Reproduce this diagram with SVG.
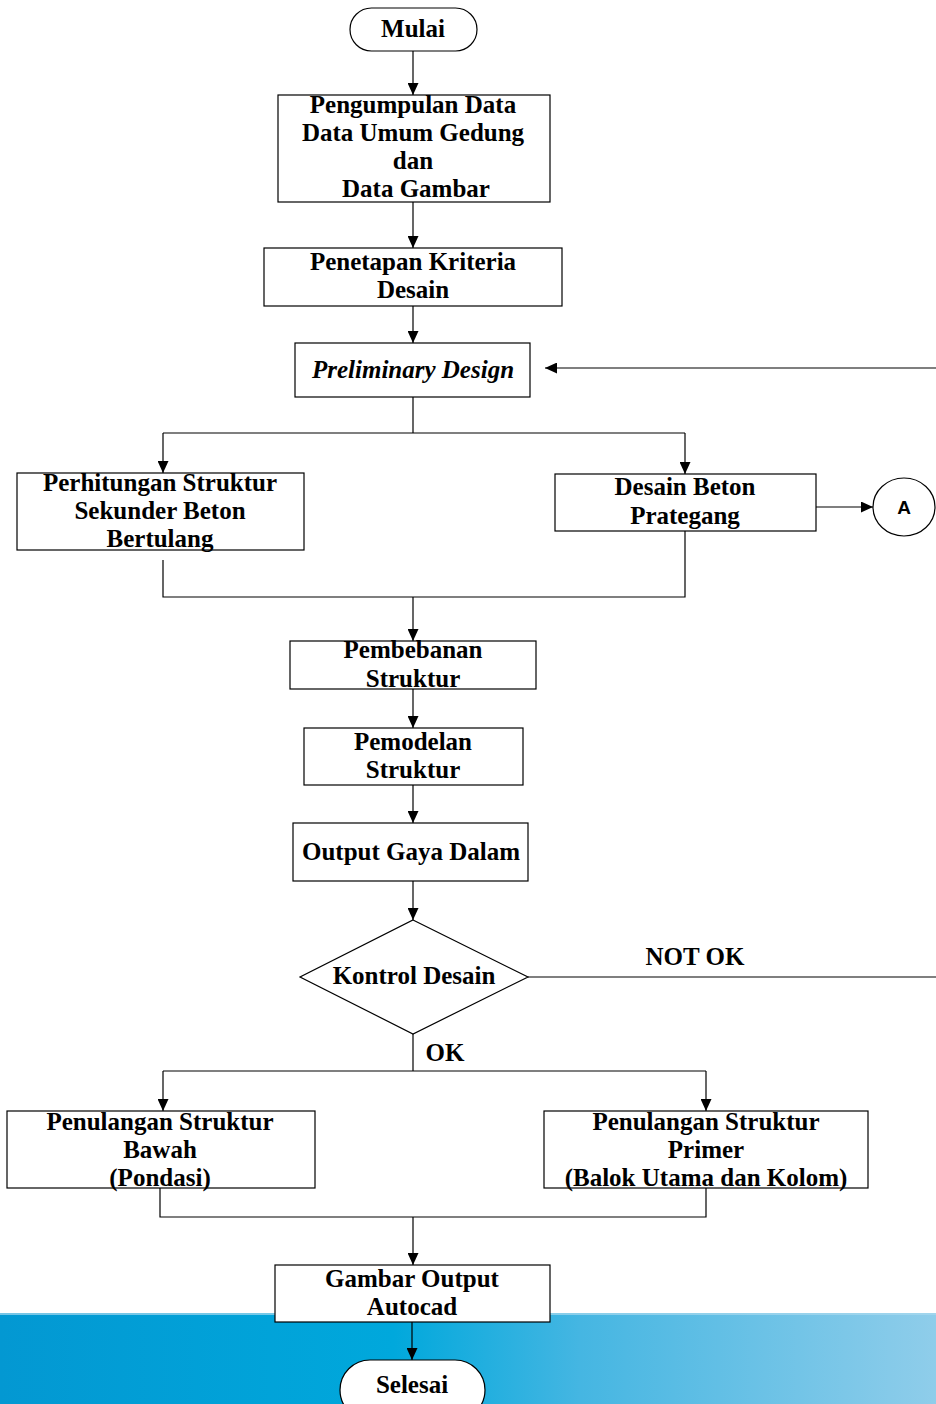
<svg xmlns="http://www.w3.org/2000/svg" width="936" height="1404" viewBox="0 0 936 1404">
<defs>
<linearGradient id="band" x1="0" y1="0" x2="1" y2="0">
<stop offset="0" stop-color="#0398d2"/>
<stop offset="0.42" stop-color="#00a8dc"/>
<stop offset="0.62" stop-color="#45b6e2"/>
<stop offset="1" stop-color="#8fcdea"/>
</linearGradient>
<marker id="arr" markerWidth="12" markerHeight="11" refX="12" refY="5.5" orient="auto" markerUnits="userSpaceOnUse">
<path d="M0,0 L12,5.5 L0,11 Z" fill="#000"/>
</marker>
<style>
.box{fill:#fff;stroke:#000;stroke-width:1.2}
.ln{fill:none;stroke:#000;stroke-width:1.2}
.t{font-family:"Liberation Serif","Times New Roman",serif;font-weight:bold;font-size:25px;fill:#000;text-anchor:middle}
.ti{font-style:italic}
.s{font-family:"Liberation Sans",Arial,sans-serif;font-weight:bold;font-size:19px;fill:#000;text-anchor:middle}
</style>
</defs>
<rect x="0" y="0" width="936" height="1404" fill="#fff"/>
<rect x="0" y="1313" width="936" height="91" fill="url(#band)"/>
<rect x="0" y="1313" width="936" height="2" fill="#a8d8ee" opacity="0.7"/>

<g id="connectors">
<path class="ln" d="M413,51 V95" marker-end="url(#arr)"/>
<path class="ln" d="M413,202 V248" marker-end="url(#arr)"/>
<path class="ln" d="M413,306 V343" marker-end="url(#arr)"/>
<path class="ln" d="M936,368 H545" marker-end="url(#arr)"/>
<path class="ln" d="M413,397 V433"/>
<path class="ln" d="M163,433 H685"/>
<path class="ln" d="M163,433 V473" marker-end="url(#arr)"/>
<path class="ln" d="M685,433 V474" marker-end="url(#arr)"/>
<path class="ln" d="M816,507 H873" marker-end="url(#arr)"/>
<path class="ln" d="M163,560 V597 H685 V531"/>
<path class="ln" d="M413,597 V641" marker-end="url(#arr)"/>
<path class="ln" d="M413,689 V728" marker-end="url(#arr)"/>
<path class="ln" d="M413,785 V823" marker-end="url(#arr)"/>
<path class="ln" d="M413,881 V920" marker-end="url(#arr)"/>
<path class="ln" d="M528,977 H936"/>
<path class="ln" d="M413,1034 V1071"/>
<path class="ln" d="M163,1071 H706"/>
<path class="ln" d="M163,1071 V1111" marker-end="url(#arr)"/>
<path class="ln" d="M706,1071 V1111" marker-end="url(#arr)"/>
<path class="ln" d="M160,1188 V1217 H706 V1188"/>
<path class="ln" d="M413,1217 V1265" marker-end="url(#arr)"/>
<path class="ln" d="M412,1322 V1360" marker-end="url(#arr)"/>
<text class="t" x="695" y="965">NOT OK</text>
<text class="t" x="445" y="1061">OK</text>
</g>

<g id="mulai">
<rect class="box" x="350" y="8" width="127" height="43" rx="21.5" ry="21.5"/>
<text class="t" x="413" y="37">Mulai</text>
</g>
<g id="pengumpulan">
<rect class="box" x="278" y="95" width="272" height="107"/>
<text class="t" x="413" y="113">Pengumpulan Data</text>
<text class="t" x="413" y="141">Data Umum Gedung</text>
<text class="t" x="413" y="169">dan</text>
<text class="t" x="416" y="197">Data Gambar</text>
</g>
<g id="kriteria">
<rect class="box" x="264" y="248" width="298" height="58"/>
<text class="t" x="413" y="270">Penetapan Kriteria</text>
<text class="t" x="413" y="298">Desain</text>
</g>
<g id="preliminary">
<rect class="box" x="295" y="343" width="235" height="54"/>
<text class="t ti" x="413" y="378">Preliminary Design</text>
</g>
<g id="sekunder">
<rect class="box" x="17" y="473" width="287" height="77"/>
<text class="t" x="160" y="491">Perhitungan Struktur</text>
<text class="t" x="160" y="519">Sekunder Beton</text>
<text class="t" x="160" y="547">Bertulang</text>
</g>
<g id="prategang">
<rect class="box" x="555" y="474" width="261" height="57"/>
<text class="t" x="685" y="495">Desain Beton</text>
<text class="t" x="685" y="524">Prategang</text>
</g>
<g id="konektorA">
<ellipse class="box" cx="904" cy="507" rx="31" ry="29"/>
<text class="s" x="904" y="514">A</text>
</g>
<g id="pembebanan">
<rect class="box" x="290" y="641" width="246" height="48"/>
<text class="t" x="413" y="658">Pembebanan</text>
<text class="t" x="413" y="687">Struktur</text>
</g>
<g id="pemodelan">
<rect class="box" x="304" y="728" width="219" height="57"/>
<text class="t" x="413" y="750">Pemodelan</text>
<text class="t" x="413" y="778">Struktur</text>
</g>
<g id="output">
<rect class="box" x="293" y="823" width="235" height="58"/>
<text class="t" x="411" y="860">Output Gaya Dalam</text>
</g>
<g id="kontrol">
<path class="box" d="M413,920 L528,977 L413,1034 L300,977 Z"/>
<text class="t" x="414" y="984">Kontrol Desain</text>
</g>
<g id="bawah">
<rect class="box" x="7" y="1111" width="308" height="77"/>
<text class="t" x="160" y="1130">Penulangan Struktur</text>
<text class="t" x="160" y="1158">Bawah</text>
<text class="t" x="160" y="1186">(Pondasi)</text>
</g>
<g id="primer">
<rect class="box" x="544" y="1111" width="324" height="77"/>
<text class="t" x="706" y="1130">Penulangan Struktur</text>
<text class="t" x="706" y="1158">Primer</text>
<text class="t" x="706" y="1186">(Balok Utama dan Kolom)</text>
</g>
<g id="gambar">
<rect class="box" x="275" y="1265" width="275" height="57"/>
<text class="t" x="412" y="1287">Gambar Output</text>
<text class="t" x="412" y="1315">Autocad</text>
</g>
<g id="selesai">
<rect class="box" x="340" y="1360" width="145" height="60" rx="30" ry="30"/>
<text class="t" x="412" y="1393">Selesai</text>
</g>
</svg>
